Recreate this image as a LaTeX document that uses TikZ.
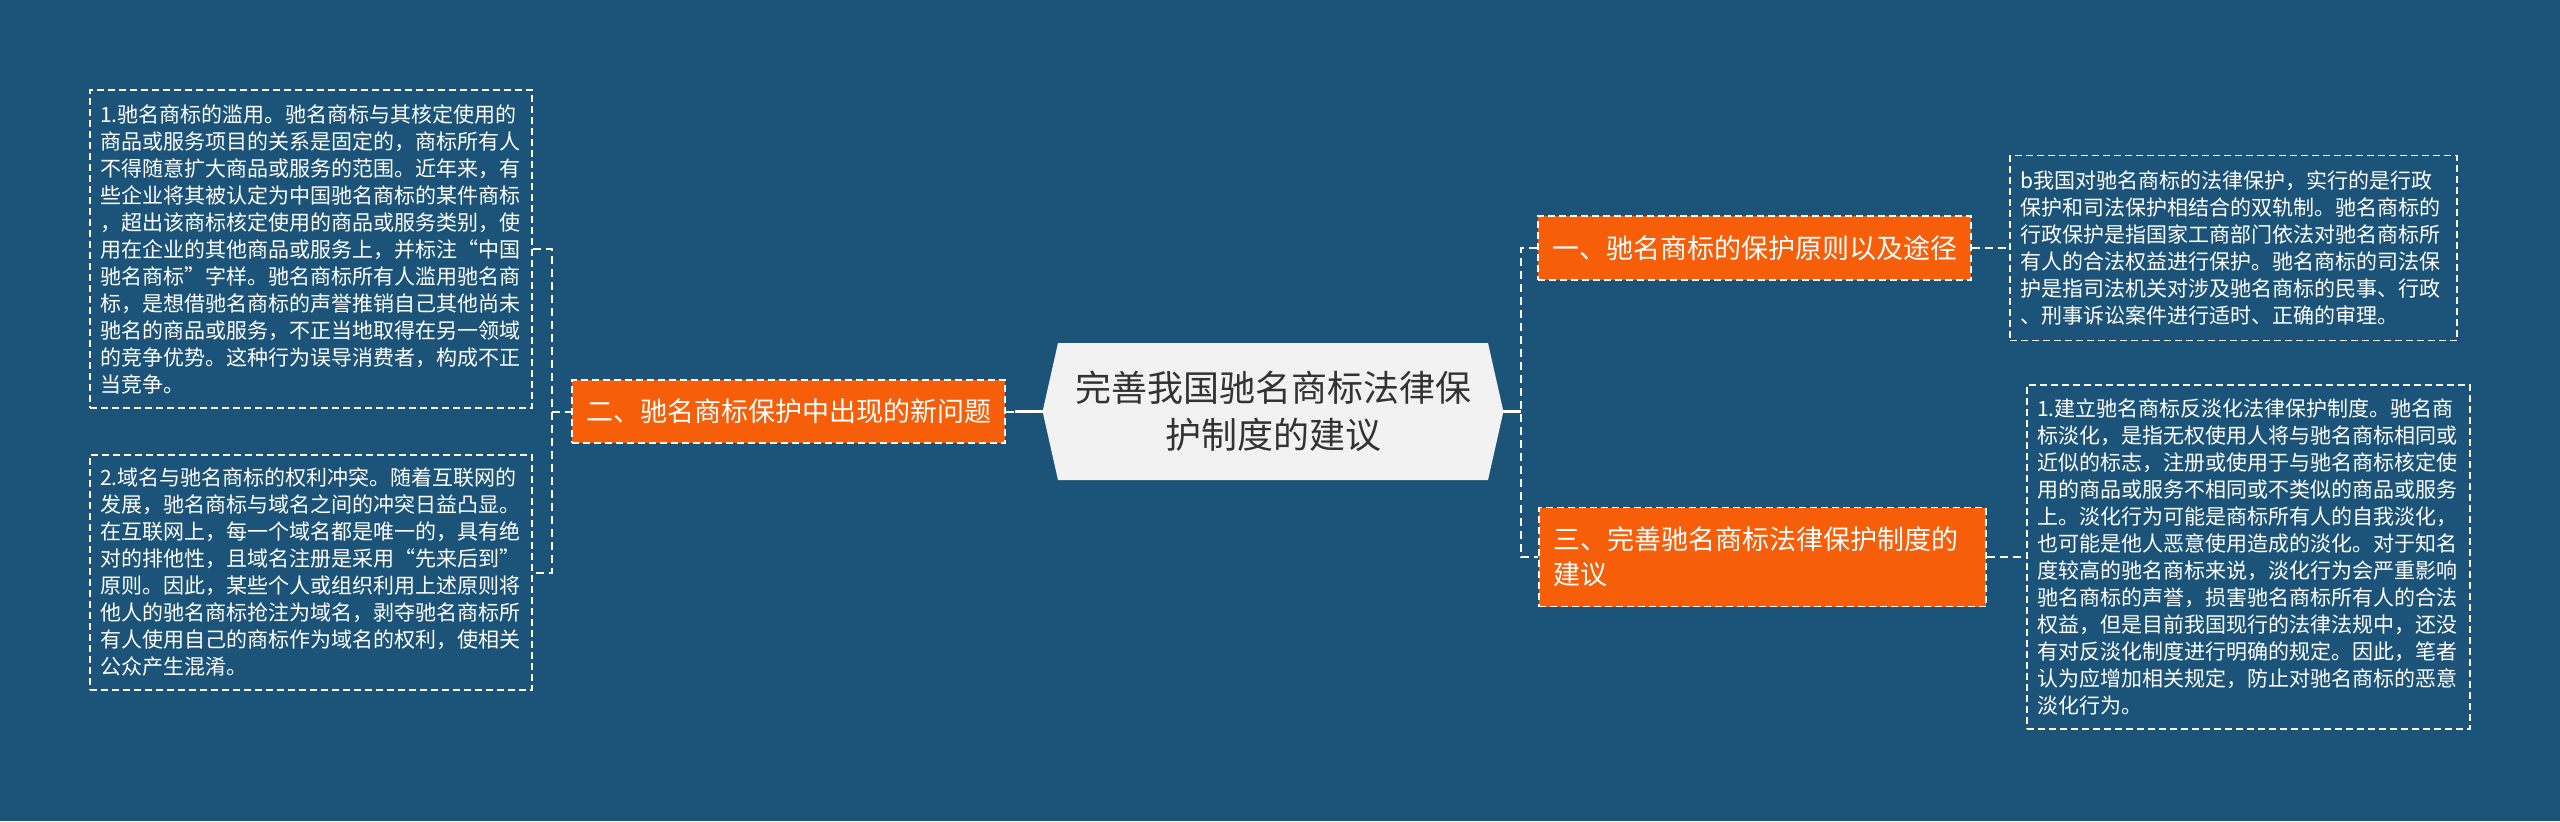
\documentclass[tikz,border=0pt]{standalone}
\usepackage{fontspec}
\newfontfamily\cjk{Noto Sans CJK SC}
\newfontfamily\cjkfw[RawFeature=+fwid]{Noto Sans CJK SC}
\newcommand{\myLq}{{\cjkfw “}}
\newcommand{\myRq}{{\cjkfw ”}}
\definecolor{bgc}{RGB}{27,84,120}
\definecolor{orc}{RGB}{246,94,10}
\definecolor{hexc}{RGB}{242,242,242}
\definecolor{hext}{RGB}{51,51,51}
\tikzset{
  tbox/.style={draw=white, line width=0.8pt, dash pattern=on 3.5pt off 2pt, text=white, align=left,
    font=\cjk\fontsize{10.5pt}{13.5pt}\selectfont, inner xsep=5pt, inner ysep=0pt, anchor=center},
  obox/.style={draw=white, fill=orc, line width=0.8pt, dash pattern=on 3.5pt off 2pt, text=white,
    font=\cjk\fontsize{13.5pt}{17.5pt}\selectfont, inner xsep=7pt, inner ysep=0pt, anchor=center},
  dconn/.style={draw=white, line width=1pt, dash pattern=on 4pt off 2.5pt},
  sconn/.style={draw=white, line width=1.2pt}
}
\begin{document}
\begin{tikzpicture}[x=0.5pt,y=-0.5pt]
\fill[bgc] (0,0) rectangle (2560,821);
\useasboundingbox (0,0) rectangle (2560,821);

% centre
\node[minimum width=230pt, minimum height=68.5pt, inner sep=0pt] (c) at (1273,411.5) {};
\fill[hexc] (c.west) -- (1058,343) -- (1488,343) -- (c.east) -- (1488,480) -- (1058,480) -- cycle;
\node[text=hext, align=center, font=\cjk\fontsize{18pt}{23.5pt}\selectfont] (ct) at (c.center) {完善我国驰名商标法律保\\护制度的建议};

% orange nodes
\node[obox, minimum width=216.5pt, minimum height=31.5pt] (n2) at (788.5,411.5) {二、驰名商标保护中出现的新问题};
\node[obox, minimum width=215.5pt, minimum height=32pt] (n1) at (1754.5,248) {一、驰名商标的保护原则以及途径};
\node[obox, minimum height=49.5pt, text width=209.5pt, align=left] (n3) at (1762.5,557) {三、完善驰名商标法律保护制度的\\建议};

% text boxes
\node[tbox, minimum width=221pt, minimum height=159pt, text width=211pt] (lt) at (311,249) {1.驰名商标的滥用。驰名商标与其核定使用的\\商品或服务项目的关系是固定的，商标所有人\\不得随意扩大商品或服务的范围。近年来，有\\些企业将其被认定为中国驰名商标的某件商标\\，超出该商标核定使用的商品或服务类别，使\\用在企业的其他商品或服务上，并标注\myLq 中国\\驰名商标\myRq 字样。驰名商标所有人滥用驰名商\\标，是想借驰名商标的声誉推销自己其他尚未\\驰名的商品或服务，不正当地取得在另一领域\\的竞争优势。这种行为误导消费者，构成不正\\当竞争。};
\node[tbox, minimum width=221pt, minimum height=117.5pt, text width=211pt] (lb) at (311,572.5) {2.域名与驰名商标的权利冲突。随着互联网的\\发展，驰名商标与域名之间的冲突日益凸显。\\在互联网上，每一个域名都是唯一的，具有绝\\对的排他性，且域名注册是采用\myLq 先来后到\myRq\\原则。因此，某些个人或组织利用上述原则将\\他人的驰名商标抢注为域名，剥夺驰名商标所\\有人使用自己的商标作为域名的权利，使相关\\公众产生混淆。};
\node[tbox, minimum width=223.5pt, minimum height=92.5pt, text width=213.5pt] (rt) at (2233.5,248) {b我国对驰名商标的法律保护，实行的是行政\\保护和司法保护相结合的双轨制。驰名商标的\\行政保护是指国家工商部门依法对驰名商标所\\有人的合法权益进行保护。驰名商标的司法保\\护是指司法机关对涉及驰名商标的民事、行政\\、刑事诉讼案件进行适时、正确的审理。};
\node[tbox, minimum width=221.5pt, minimum height=172pt, text width=211.5pt] (rb) at (2248.5,557) {1.建立驰名商标反淡化法律保护制度。驰名商\\标淡化，是指无权使用人将与驰名商标相同或\\近似的标志，注册或使用于与驰名商标核定使\\用的商品或服务不相同或不类似的商品或服务\\上。淡化行为可能是商标所有人的自我淡化，\\也可能是他人恶意使用造成的淡化。对于知名\\度较高的驰名商标来说，淡化行为会严重影响\\驰名商标的声誉，损害驰名商标所有人的合法\\权益，但是目前我国现行的法律法规中，还没\\有对反淡化制度进行明确的规定。因此，笔者\\认为应增加相关规定，防止对驰名商标的恶意\\淡化行为。};

% connectors
\coordinate (jr) at (1521,411.5);
\coordinate (jl) at (552,411.5);
\coordinate (jc) at (1015,411.5);
\draw[sconn] (c.east) -- (jr);
\draw[dconn] (n1.west) -| (jr) |- (n3.west);
\draw[dconn] (n2.east) -- (jc);
\draw[sconn] (jc) -- (c.west);
\draw[dconn] (lt.east) -| (jl) |- (lb.east);
\draw[dconn] (jl) -- (n2.west);
\draw[dconn] (n1.east) -- (rt.west);
\draw[dconn] (n3.east) -- (rb.west);
\end{tikzpicture}
\end{document}
